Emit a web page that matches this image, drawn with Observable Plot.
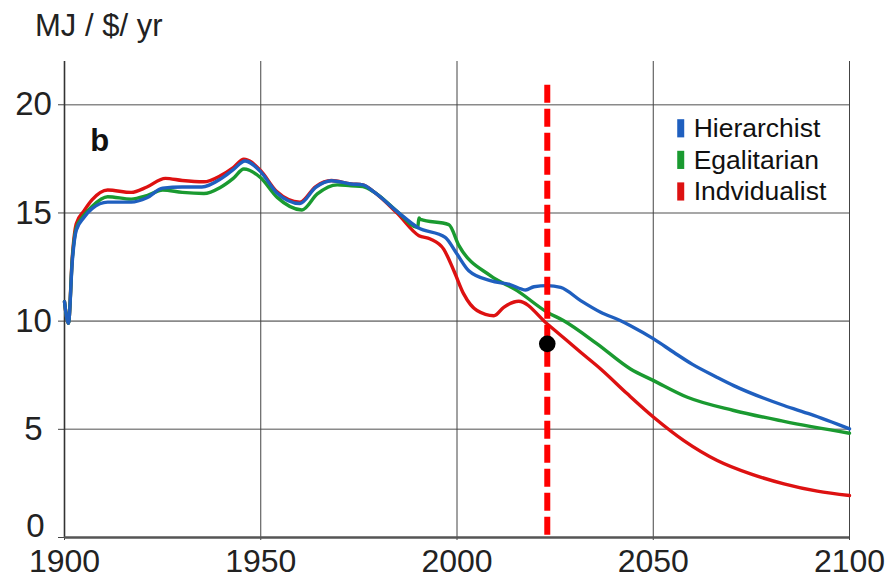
<!DOCTYPE html>
<html>
<head>
<meta charset="utf-8">
<script src="https://cdn.jsdelivr.net/npm/d3@7"></script>
<script src="https://cdn.jsdelivr.net/npm/@observablehq/plot@0.6"></script>
<style>
  html, body { margin: 0; padding: 0; background: #fff; }
  #wrap { width: 895px; height: 578px; overflow: hidden; font-family: "Liberation Sans", Arial, sans-serif; color: #222; }
  #title { box-sizing: border-box; height: 56px; padding: 10px 0 0 35px; font-size: 31px; line-height: 31px; }
  svg { display: block; }
</style>
</head>
<body>
<div id="wrap">
  <div id="title">MJ / $/ yr</div>
  <div id="chart"></div>
</div>
<script>
// ---- data ----
const seriesNames = ["Hierarchist", "Egalitarian", "Indvidualist"];
const seriesColors = ["#1f5fbf", "#1a9a30", "#dd1111"];

const hierYears = [1900, 1901, 1902, 1903, 1905, 1907, 1911, 1917, 1921, 1925, 1930, 1935, 1940, 1943, 1946, 1950, 1954, 1960, 1964, 1968, 1973, 1976, 1979, 1985, 1990, 1997, 2000, 2003, 2008.5, 2013.5, 2017.5, 2019.6, 2023, 2026.4, 2031.5, 2036.6, 2041.7, 2044.2, 2050.1, 2055.2, 2060, 2066.3, 2070.5, 2083.3, 2090, 2100];
const hierValues = [10.9, 9.9, 12.8, 14.2, 14.8, 15.2, 15.5, 15.5, 15.7, 16.15, 16.2, 16.2, 16.6, 17.0, 17.4, 16.9, 15.95, 15.44, 16.18, 16.49, 16.34, 16.3, 15.95, 15.03, 14.33, 13.87, 13.1, 12.33, 11.87, 11.69, 11.44, 11.59, 11.64, 11.56, 10.95, 10.41, 10.02, 9.79, 9.18, 8.56, 8.0, 7.4, 7.02, 6.1, 5.7, 5.02];

const egalYears = [1900, 1901, 1902, 1903, 1905, 1907, 1911, 1917, 1921, 1925, 1930, 1935.5, 1939.7, 1943, 1945.7, 1949.9, 1954.2, 1960.5, 1964.4, 1969.5, 1973, 1976, 1979, 1985, 1990, 1990.3, 1990.7, 1997.9, 2000.5, 2008.5, 2015.3, 2023, 2027.2, 2035.7, 2044.2, 2050.1, 2058.7, 2070.5, 2083.3, 2100];
const egalValues = [10.9, 9.9, 12.9, 14.3, 14.9, 15.3, 15.75, 15.64, 15.8, 16.06, 15.95, 15.9, 16.18, 16.6, 17.03, 16.64, 15.72, 15.14, 15.88, 16.3, 16.25, 16.22, 15.95, 15.03, 14.33, 14.77, 14.7, 14.46, 13.49, 12.1, 11.41, 10.41, 10.02, 8.95, 7.79, 7.25, 6.48, 5.87, 5.37, 4.82];

const indYears = [1900, 1901, 1902, 1903, 1905, 1907, 1911, 1917, 1921, 1925.7, 1930, 1935.5, 1939.7, 1943, 1945.7, 1950, 1954, 1960, 1964, 1968, 1973, 1976, 1979, 1984.8, 1990.3, 1993.2, 1996.6, 1999.2, 2001.7, 2005.1, 2009.4, 2011.9, 2015.7, 2023, 2031.5, 2036.6, 2043.4, 2050.1, 2057.8, 2066.3, 2074.8, 2083.3, 2091.8, 2100];
const indValues = [10.9, 9.9, 13.0, 14.5, 15.1, 15.6, 16.06, 15.95, 16.2, 16.6, 16.5, 16.44, 16.72, 17.1, 17.49, 16.95, 16.0, 15.5, 16.22, 16.5, 16.34, 16.3, 15.95, 14.98, 13.95, 13.8, 13.33, 12.33, 11.26, 10.49, 10.25, 10.64, 10.92, 9.87, 8.56, 7.79, 6.64, 5.56, 4.48, 3.56, 2.94, 2.48, 2.14, 1.94];

const xTicks = [1900, 1950, 2000, 2050, 2100];
const yTicks = [0, 5, 10, 15, 20];

const markerYear = 2023;      // dashed vertical marker
const markerTop = 20.9;
const markerBottom = 0.1;
const pointValue = 8.95;      // black dot on the marker

const panelLabel = "b";
const panelLabelX = 1909.0;
const panelLabelY = 18.32;

const legendX = 2060.3;
const legendSwatchX = 2057.0;
const legendYs = [18.89, 17.43, 15.97];

// ---- tidy table for the marks ----
const rows = [];
[[hierYears, hierValues], [egalYears, egalValues], [indYears, indValues]].forEach(([ys, vs], i) => {
  ys.forEach((yr, j) => rows.push({series: seriesNames[i], year: yr, value: vs[j]}));
});
const legendRows = seriesNames.map((name, i) => ({series: name, y: legendYs[i]}));
const drawOrder = ["Indvidualist", "Egalitarian", "Hierarchist"];

const chart = Plot.plot({
  width: 895,
  height: 522,
  marginTop: 5,
  marginBottom: 41,
  marginLeft: 64,
  marginRight: 46,
  x: {domain: [1900, 2100]},
  y: {domain: [0, 22]},
  color: {domain: seriesNames, range: seriesColors},
  style: {fontFamily: "Liberation Sans, Arial, sans-serif", color: "#222", background: "#fff", overflow: "visible"},
  marks: [
    Plot.gridY(yTicks.filter(d => d > 0), {stroke: "#8a8a8a", strokeOpacity: 1, strokeWidth: 1.6}),
    Plot.gridX(xTicks.filter(d => d > 1900), {stroke: "#444", strokeOpacity: 1, strokeWidth: 1}),
    Plot.axisY({ticks: yTicks, tickSize: 6, tickPadding: 25, textAnchor: "middle", fontSize: 33, label: null, stroke: "#444",
      tickFormat: d => d === 0 ? "" : String(d)}),
    Plot.axisY({ticks: [0], tickSize: 0, tickPadding: 29, textAnchor: "middle", fontSize: 33, label: null, dy: -11,
      tickFormat: d => String(d)}),
    Plot.axisX({ticks: xTicks, tickSize: 3, tickPadding: 9, fontSize: 32, label: null, tickFormat: d => String(d), stroke: "#444"}),
    Plot.ruleX([1900], {stroke: "#333", strokeWidth: 1.6}),
    Plot.ruleY([0], {stroke: "#555", strokeWidth: 2.6}),
    ...drawOrder.map(name => Plot.line(rows.filter(r => r.series === name), {
      x: "year", y: "value", stroke: "series", strokeWidth: 3.4, curve: "monotone-x"
    })),
    Plot.ruleX([markerYear], {x: d => d, y1: markerTop, y2: markerBottom, stroke: "#ff0000", strokeWidth: 6, strokeDasharray: "18,6"}),
    Plot.dot([markerYear], {x: d => d, y: pointValue, r: 8.3, fill: "#000", stroke: "none"}),
    Plot.text([panelLabel], {x: panelLabelX, y: panelLabelY, text: d => d, fontSize: 31, fontWeight: "bold", fill: "#111"}),
    Plot.ruleX(legendRows, {x: legendSwatchX, y1: d => d.y - 0.42, y2: d => d.y + 0.42, stroke: "series", strokeWidth: 7}),
    Plot.text(legendRows, {x: legendX, y: "y", text: "series", textAnchor: "start", fontSize: 26.5, fill: "#111"})
  ]
});
document.getElementById("chart").appendChild(chart);
</script>
</body>
</html>
